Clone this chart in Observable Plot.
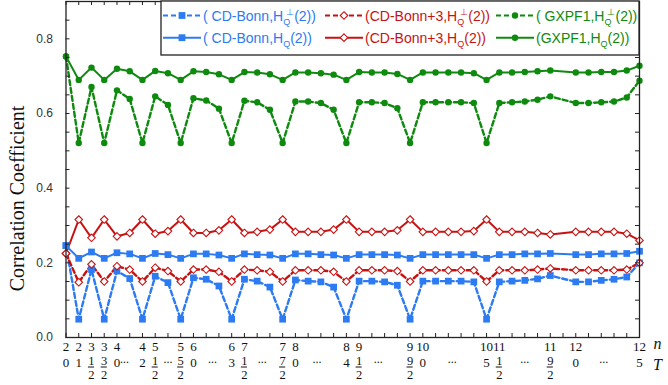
<!DOCTYPE html>
<html><head><meta charset="utf-8">
<script src="https://cdn.jsdelivr.net/npm/d3@7"></script>
<script src="https://cdn.jsdelivr.net/npm/@observablehq/plot@0.6"></script>
<style>body{margin:0;background:#fff}#chart{position:relative;width:668px;height:385px}</style>
</head><body><div id="chart"></div>
<script>
// state positions along the x axis (index 39 has no data)
const stateIndex = [0,1,2,3,4,5,6,7,8,9,10,11,12,13,14,15,16,17,18,19,20,21,22,23,24,25,26,27,28,29,30,31,32,33,34,35,36,37,38,40,41,42,43,44,45];

const blueDashed = [0.246,0.049,0.182,0.049,0.178,0.158,0.049,0.164,0.147,0.049, 0.160,0.156,0.138,0.049,0.156,0.151,0.135,0.049,0.154,0.151, 0.149,0.135,0.049,0.151,0.151,0.149,0.140,0.049,0.151,0.151, 0.151,0.151,0.149,0.049,0.149,0.151,0.153,0.157,0.166, 0.149,0.149,0.153,0.156,0.162,0.200];
const blueSolid = [0.246,0.212,0.229,0.212,0.227,0.224,0.212,0.225,0.222,0.212, 0.224,0.224,0.221,0.212,0.224,0.222,0.221,0.212,0.224,0.224, 0.222,0.221,0.212,0.222,0.222,0.222,0.221,0.212,0.222,0.222, 0.222,0.222,0.222,0.212,0.222,0.222,0.224,0.224,0.225, 0.222,0.222,0.224,0.224,0.225,0.231];
const redDashed = [0.225,0.148,0.196,0.150,0.191,0.182,0.150,0.187,0.178,0.150, 0.182,0.182,0.176,0.150,0.182,0.180,0.176,0.150,0.180,0.180, 0.180,0.176,0.150,0.180,0.180,0.180,0.178,0.150,0.180,0.180, 0.180,0.180,0.180,0.150,0.180,0.180,0.180,0.182,0.185, 0.180,0.180,0.180,0.180,0.182,0.200];
const redSolid = [0.225,0.316,0.267,0.316,0.271,0.280,0.316,0.278,0.285,0.316, 0.280,0.280,0.287,0.316,0.280,0.283,0.289,0.316,0.283,0.283, 0.283,0.289,0.316,0.283,0.283,0.283,0.287,0.316,0.283,0.283, 0.283,0.283,0.285,0.316,0.283,0.283,0.283,0.280,0.276, 0.283,0.283,0.283,0.283,0.278,0.260];
const greenDashed = [0.753,0.521,0.671,0.521,0.662,0.639,0.521,0.646,0.623,0.521, 0.641,0.635,0.613,0.521,0.634,0.630,0.610,0.521,0.632,0.632, 0.628,0.610,0.521,0.630,0.630,0.628,0.614,0.521,0.630,0.630, 0.630,0.630,0.628,0.521,0.628,0.630,0.632,0.637,0.646, 0.628,0.628,0.630,0.632,0.643,0.688];
const greenSolid = [0.753,0.690,0.723,0.690,0.720,0.713,0.690,0.714,0.708,0.690, 0.713,0.711,0.705,0.690,0.711,0.710,0.705,0.690,0.710,0.710, 0.708,0.704,0.690,0.711,0.710,0.710,0.706,0.690,0.710,0.710, 0.710,0.710,0.708,0.690,0.710,0.710,0.711,0.713,0.715, 0.710,0.710,0.711,0.711,0.715,0.728];

// tick labels
const yLabelValues = [0, 0.2, 0.4, 0.6, 0.8];
const yLabelTexts = ["0.0", "0.2", "0.4", "0.6", "0.8"];
const labelTicks = [0,1,2,3,4,6,7,9,10,13,14,17,18,22,23,27,28,33,34,38,40,45];
const nLabels = ["2","2","3","3","4","4","5","5","6","6","7","7","8","8","9","9","10","10","11","11","12","12"];
const tLabels = ["0","1","1/2","3/2","0","2","1/2","5/2","0","3","1/2","7/2","0","4","1/2","9/2","0","5","1/2","9/2","0","5"];
const ellipsisAt = [4.6, 8, 11.5, 15.4, 19.7, 24.5, 30.3, 36, 42.2];
const yTitle = "Correlation Coefficient";

const BLUE = "#2c7bf2", RED = "#c81212", GREEN = "#0e8a0e";
const series = [
  {name: "CD-Bonn perp", values: blueDashed, color: BLUE, dashed: true, symbol: "square", label: ["( CD-Bonn,H", "Q", "\u22A5", "(2))"]},
  {name: "CD-Bonn", values: blueSolid, color: BLUE, dashed: false, symbol: "square", label: ["( CD-Bonn,H", "Q", null, "(2))"]},
  {name: "CD-Bonn+3 perp", values: redDashed, color: RED, dashed: true, symbol: "diamond2", label: ["(CD-Bonn+3,H", "Q", "\u22A5", "(2))"]},
  {name: "CD-Bonn+3", values: redSolid, color: RED, dashed: false, symbol: "diamond2", label: ["(CD-Bonn+3,H", "Q", null, "(2))"]},
  {name: "GXPF1 perp", values: greenDashed, color: GREEN, dashed: true, symbol: "circle", label: ["( GXPF1,H", "Q", "\u22A5", "(2))"]},
  {name: "GXPF1", values: greenSolid, color: GREEN, dashed: false, symbol: "circle", label: ["(GXPF1,H", "Q", null, "(2))"]}
];

const W = 668, H = 385, mL = 65.5, mR = 29, mT = 1, mB = 48;
const innerW = W - mL - mR, innerH = H - mT - mB;
const serif = "Liberation Serif, Times New Roman, serif";

const marks = [];
// data
for (const s of series) {
  const data = stateIndex.map((i, k) => ({i, v: s.values[k]}));
  marks.push(Plot.line(data, {x: "i", y: "v", stroke: s.color, strokeWidth: s.dashed ? 2.4 : 2, strokeDasharray: s.dashed ? "5,3" : null}));
}
for (const s of series) {
  const data = stateIndex.map((i, k) => ({i, v: s.values[k]}));
  if (s.symbol === "square") marks.push(Plot.dot(data, {x: "i", y: "v", symbol: "square", r: 3.8, fill: s.color, stroke: "none"}));
  else if (s.symbol === "diamond2") marks.push(Plot.dot(data, {x: "i", y: "v", symbol: "diamond2", r: 3.4, fill: "white", stroke: s.color, strokeWidth: 1.1}));
  else marks.push(Plot.dot(data, {x: "i", y: "v", r: 3.2, fill: s.color, stroke: "none"}));
}
// frame and inward ticks
const xTicks = d3.range(0, 46);
const yTicks = d3.range(0, 18).map(k => k * 0.05);
marks.push(
  Plot.tickX(xTicks, {x: d => d, insetTop: innerH - 4, stroke: "#222", strokeWidth: 1}),
  Plot.tickX(xTicks, {x: d => d, insetBottom: innerH - 4, stroke: "#222", strokeWidth: 1}),
  Plot.tickY(yTicks, {y: d => d, insetRight: innerW - 4, stroke: "#222", strokeWidth: 1}),
  Plot.tickY(yTicks, {y: d => d, insetLeft: innerW - 4, stroke: "#222", strokeWidth: 1}),
  Plot.frame({stroke: "#222", strokeWidth: 1.3})
);
// y tick labels
marks.push(Plot.text(yLabelValues, {y: d => d, text: (d, k) => yLabelTexts[k], frameAnchor: "left", dx: -13, textAnchor: "end", fontSize: 12, fill: "#333", fontFamily: "Liberation Sans, Arial, sans-serif"}));
// y title
marks.push(Plot.text([yTitle], {frameAnchor: "left", textAnchor: "middle", dx: -48.8, dy: 29, rotate: -90, fontSize: 20, fontFamily: serif, fill: "#111"}));
// x labels: n row
const nData = labelTicks.map((i, k) => ({i, t: nLabels[k]}));
marks.push(Plot.text(nData, {x: "i", y: () => 0, text: "t", dy: 9, fontSize: 13, fontFamily: serif, fill: "#111"}));
// x labels: T row
const tData = labelTicks.map((i, k) => ({i, t: tLabels[k]}));
const tInt = tData.filter(d => !d.t.includes("/"));
const tFrac = tData.filter(d => d.t.includes("/")).map(d => ({i: d.i, num: d.t.split("/")[0], den: d.t.split("/")[1]}));
marks.push(Plot.text(tInt, {x: "i", y: () => 0, text: "t", dy: 25.5, fontSize: 13, fontFamily: serif, fill: "#111"}));
marks.push(Plot.text(tFrac, {x: "i", y: () => 0, text: "num", dy: 23, fontSize: 12.5, fontFamily: serif, fill: "#111"}));
marks.push(Plot.ruleY(tFrac, {y: () => 0, x1: d => d.i - 0.24, x2: d => d.i + 0.24, dy: 29.5, stroke: "#111", strokeWidth: 1}));
marks.push(Plot.text(tFrac, {x: "i", y: () => 0, text: "den", dy: 37.5, fontSize: 12.5, fontFamily: serif, fill: "#111"}));
marks.push(Plot.text(ellipsisAt, {x: d => d, y: () => 0, text: () => "...", dy: 22, fontSize: 12, fontFamily: serif, fill: "#111"}));
// axis variable names
marks.push(Plot.text(["n"], {x: () => 45, y: () => 0, dx: 18, dy: 6.5, fontSize: 16, fontStyle: "italic", fontFamily: serif, fill: "#111"}));
marks.push(Plot.text(["T"], {x: () => 45, y: () => 0, dx: 18, dy: 27, fontSize: 16, fontStyle: "italic", fontFamily: serif, fill: "#111"}));

const chart = Plot.plot({
  width: W, height: H,
  marginLeft: mL, marginRight: mR, marginTop: mT, marginBottom: mB,
  x: {domain: [0, 45], axis: null},
  y: {domain: [0, 0.9], axis: null},
  style: {background: "white", fontFamily: "Liberation Sans, Arial, sans-serif", overflow: "visible"},
  marks
});
document.getElementById("chart").appendChild(chart);

const svgEl = chart.tagName.toLowerCase() === "svg" ? chart : chart.querySelector("svg");

// legend (inside the plot frame, top right)
const svg = d3.select(svgEl);
const lg = svg.append("g").attr("class", "legend").attr("text-anchor", "start");
const boxX = 161, boxY = 1, boxW = 639 - 161, boxH = 54;
lg.append("rect").attr("x", boxX).attr("y", boxY).attr("width", boxW).attr("height", boxH)
  .attr("fill", "white").attr("stroke", "#222").attr("stroke-width", 1.3);
const colX = [163, 325, 496];
const rowY = [15.5, 37.7];
series.forEach((s, k) => {
  const col = Math.floor(k / 2), row = k % 2;
  const x0 = colX[col], y0 = rowY[row], len = 38;
  const g = lg.append("g");
  g.append("line").attr("x1", x0).attr("x2", x0 + len).attr("y1", y0).attr("y2", y0)
    .attr("stroke", s.color).attr("stroke-width", s.dashed ? 2.2 : 2)
    .attr("stroke-dasharray", s.dashed ? "5,3" : null);
  const cx = x0 + len / 2;
  if (s.symbol === "square") g.append("rect").attr("x", cx - 3.4).attr("y", y0 - 3.4).attr("width", 6.8).attr("height", 6.8).attr("fill", s.color);
  else if (s.symbol === "diamond2") g.append("path").attr("d", `M${cx},${y0-3.8}L${cx+3.8},${y0}L${cx},${y0+3.8}L${cx-3.8},${y0}Z`).attr("fill", "white").attr("stroke", s.color).attr("stroke-width", 1.1);
  else g.append("circle").attr("cx", cx).attr("cy", y0).attr("r", 3.2).attr("fill", s.color);
  const t = g.append("text").attr("x", x0 + len + 2).attr("y", y0 + 5).attr("text-anchor", "start")
    .attr("font-family", "Liberation Sans, Arial, sans-serif").attr("font-size", 14).attr("fill", s.color);
  const [main, sub, sup, tail] = s.label;
  t.append("tspan").text(main);
  t.append("tspan").attr("font-size", 9).attr("dy", 4).text(sub);
  if (sup) {
    t.append("tspan").attr("font-size", 9).attr("dx", -4).attr("dy", -10).text(sup);
    t.append("tspan").attr("dy", 6).text(tail);
  } else {
    t.append("tspan").attr("dy", -4).text(tail);
  }
});
</script>
</body></html>
